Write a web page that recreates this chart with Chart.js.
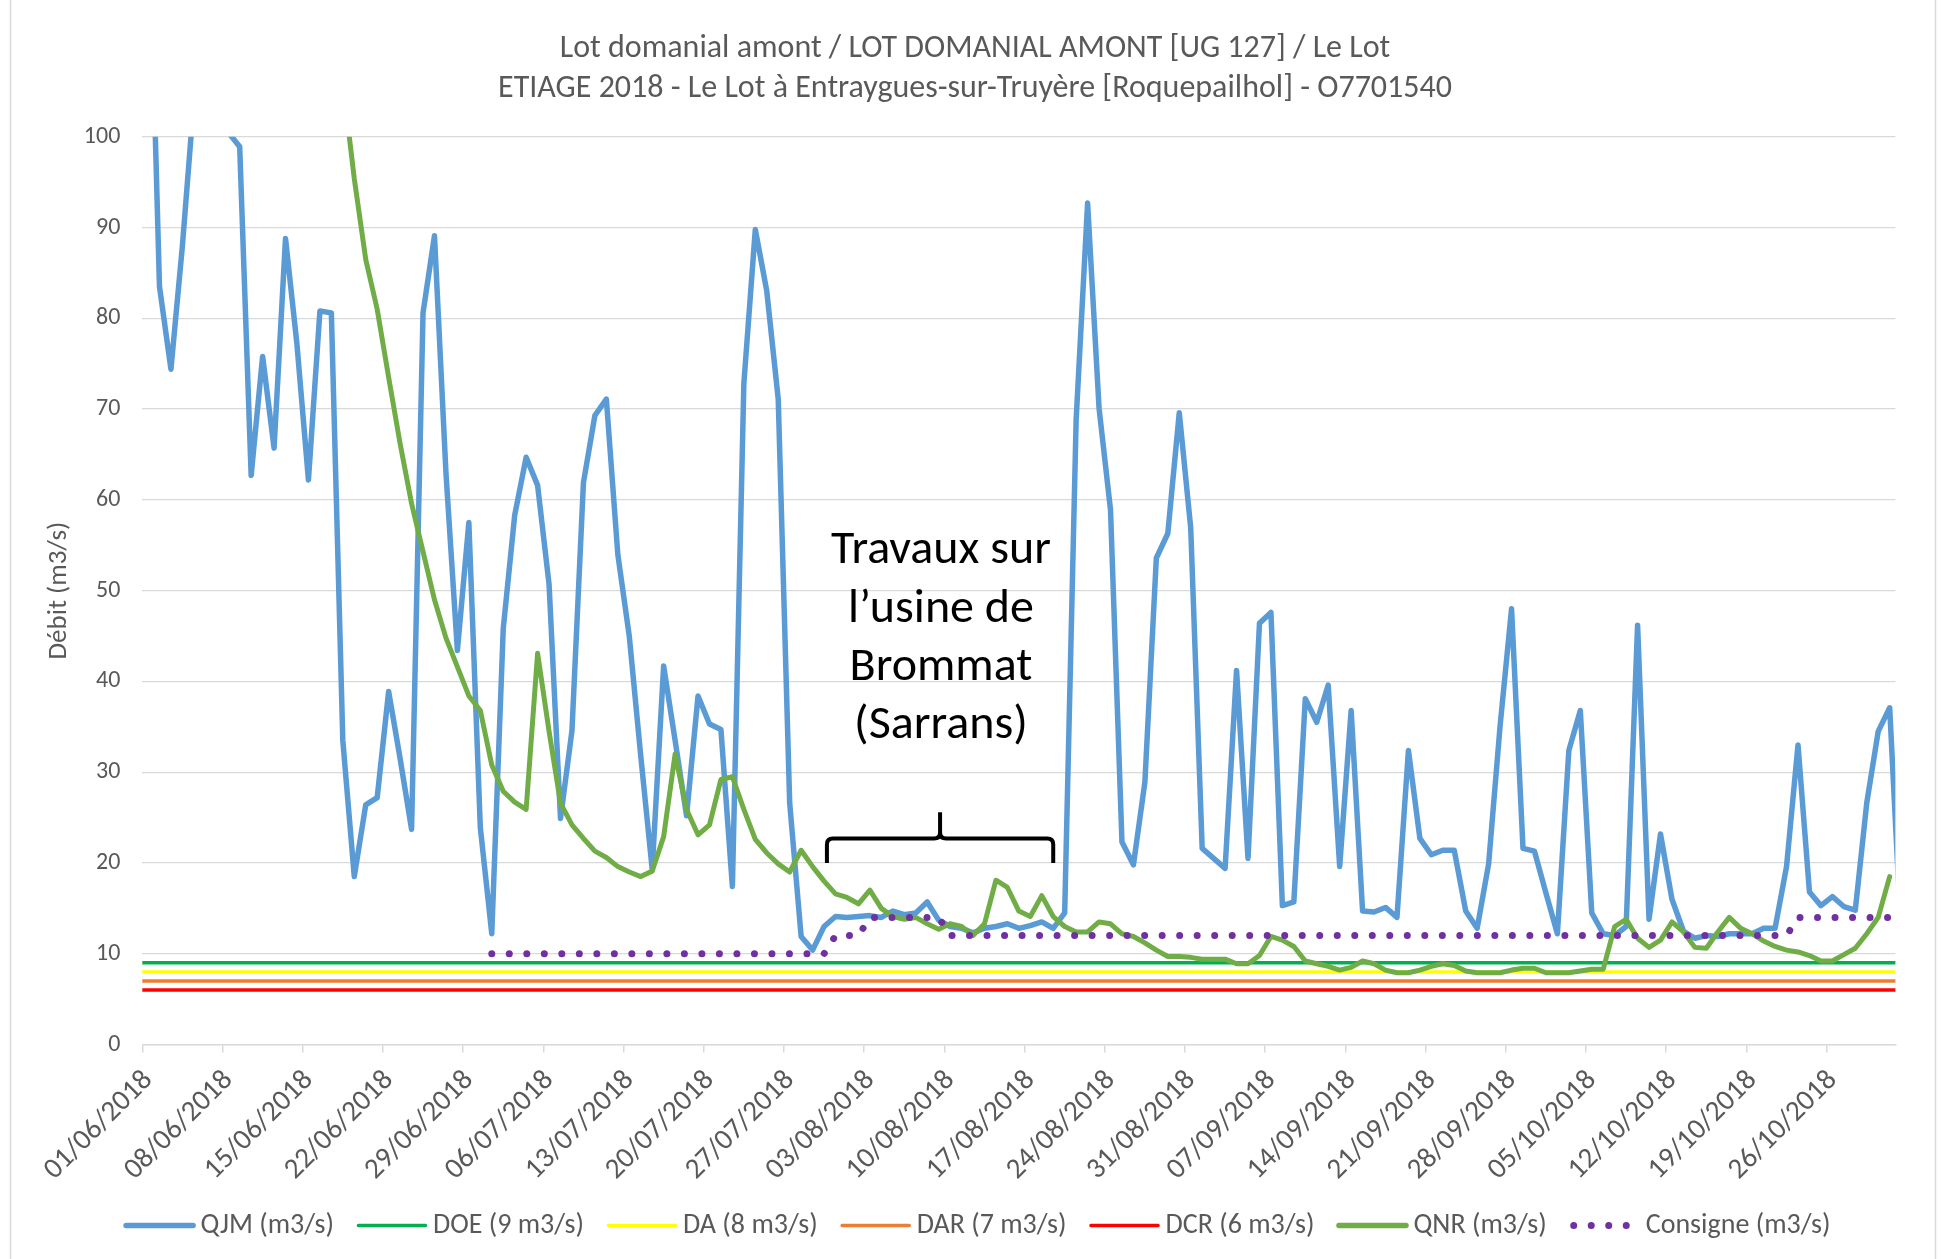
<!DOCTYPE html>
<html>
<head>
<meta charset="utf-8">
<script src="https://cdn.jsdelivr.net/npm/chart.js@4.4.1/dist/chart.umd.min.js"></script>
<style>
  html, body { margin: 0; padding: 0; background: #ffffff; }
  #wrap { position: relative; width: 1946px; height: 1259px; }
  canvas { display: block; }
</style>
</head>
<body>
<div id="wrap"><canvas id="chart" width="1946" height="1259"></canvas></div>
<script>
// ---------------------------------------------------------------------------
// Data
// ---------------------------------------------------------------------------
const titleLines = [
  'Lot domanial amont / LOT DOMANIAL AMONT [UG 127] / Le Lot',
  'ETIAGE 2018 - Le Lot \u00e0 Entraygues-sur-Truy\u00e8re [Roquepailhol] - O7701540'
];
const yAxisTitle = 'D\u00e9bit (m3/s)';

// Day 0 = 01/06/2018, one value per day up to 31/10/2018 (day 152)
const startDate = { year: 2018, month: 5, day: 1 };
const dayCount = 153;

// Axis labels, one every 7 days
const tickDays = [0, 7, 14, 21, 28, 35, 42, 49, 56, 63, 70, 77, 84, 91, 98, 105, 112, 119, 126, 133, 140, 147];
const tickLabels = ['01/06/2018', '08/06/2018', '15/06/2018', '22/06/2018', '29/06/2018', '06/07/2018',
  '13/07/2018', '20/07/2018', '27/07/2018', '03/08/2018', '10/08/2018', '17/08/2018', '24/08/2018',
  '31/08/2018', '07/09/2018', '14/09/2018', '21/09/2018', '28/09/2018', '05/10/2018', '12/10/2018',
  '19/10/2018', '26/10/2018'];

// QJM: daily mean flow (m3/s), 01/06 -> 01/11
const qjm = [
  129, 83.5, 74.4, 88, 104, 112, 108, 100.5, 98.9, 62.7,
  75.8, 65.7, 88.8, 77.1, 62.2, 80.8, 80.6, 33.5, 18.5, 26.4,
  27.2, 38.9, 31.5, 23.7, 80.6, 89.1, 63, 43.4, 57.5, 23.9,
  12.2, 45.8, 58.3, 64.7, 61.6, 50.7, 24.9, 34.6, 61.9, 69.3,
  71.1, 54, 45, 31.8, 19.3, 41.7, 33.5, 25.2, 38.4, 35.3,
  34.7, 17.4, 72.8, 89.8, 83, 71.1, 26.6, 11.9, 10.4, 13,
  14.1, 14, 14.1, 14.2, 14, 14.7, 14.3, 14.5, 15.7, 13.7,
  13, 12.8, 12.3, 12.8, 13, 13.3, 12.8, 13.1, 13.5, 12.8,
  14.5, 68.8, 92.7, 70.1, 58.9, 22.3, 19.8, 28.9, 53.6, 56.3,
  69.6, 56.9, 21.6, 20.5, 19.4, 41.2, 20.5, 46.4, 47.6, 15.3,
  15.7, 38.1, 35.5, 39.6, 19.6, 36.8, 14.7, 14.6, 15.1, 14,
  32.4, 22.7, 20.9, 21.4, 21.4, 14.7, 12.8, 19.9, 35.1, 48,
  21.6, 21.3, 16.7, 12.2, 32.4, 36.8, 14.5, 12.2, 12, 13,
  46.2, 13.8, 23.2, 16, 12.5, 11.7, 12, 11.9, 12.2, 12.2,
  12.2, 12.8, 12.8, 19.6, 33, 16.8, 15.3, 16.3, 15.2, 14.8,
  26.6, 34.5, 37.1, 12
];

// QNR: naturalised flow (m3/s); first days above the axis range
const qnr = [
  null, null, null, null, null, null, null, null, null, null,
  null, null, null, null, null, null, null, 106, 95.4, 86.5,
  81, 73.5, 66.2, 59.6, 54.3, 49, 44.8, 41.6, 38.4, 36.8,
  30.8, 27.9, 26.7, 25.9, 43.1, 34.5, 26.6, 24.2, 22.7, 21.3,
  20.6, 19.6, 19, 18.5, 19.1, 22.9, 32, 25.9, 23.1, 24.2,
  29.2, 29.5, 25.9, 22.6, 21.1, 19.9, 19, 21.4, 19.6, 18,
  16.6, 16.2, 15.5, 17, 15, 14.1, 13.8, 14, 13.3, 12.7,
  13.3, 13, 12, 13.3, 18.1, 17.3, 14.7, 14.1, 16.4, 14.1,
  13, 12.4, 12.4, 13.5, 13.3, 12.2, 11.9, 11.2, 10.4, 9.7,
  9.7, 9.6, 9.4, 9.4, 9.4, 8.9, 8.9, 9.8, 11.9, 11.5,
  10.8, 9.2, 8.9, 8.6, 8.2, 8.5, 9.2, 8.9, 8.2, 7.9,
  7.9, 8.2, 8.6, 8.9, 8.7, 8.1, 7.9, 7.9, 7.9, 8.2,
  8.4, 8.4, 7.9, 7.9, 7.9, 8.1, 8.3, 8.3, 13, 13.8,
  11.7, 10.7, 11.5, 13.5, 12.4, 10.7, 10.6, 12.4, 14, 12.8,
  12.2, 11.4, 10.8, 10.4, 10.2, 9.8, 9.2, 9.2, 9.9, 10.6,
  12.2, 14, 18.5
];

// Consigne (m3/s), from 01/07 (day 30) to 31/10
const consigneStartDay = 30;
const consigne = [
  10, 10, 10, 10, 10, 10, 10, 10, 10, 10,
  10, 10, 10, 10, 10, 10, 10, 10, 10, 10,
  10, 10, 10, 10, 10, 10, 10, 10, 10, 10,
  12, 12, 12, 14, 14, 14, 14, 14, 14, 14,
  12, 12, 12, 12, 12, 12, 12, 12, 12, 12,
  12, 12, 12, 12, 12, 12, 12, 12, 12, 12,
  12, 12, 12, 12, 12, 12, 12, 12, 12, 12,
  12, 12, 12, 12, 12, 12, 12, 12, 12, 12,
  12, 12, 12, 12, 12, 12, 12, 12, 12, 12,
  12, 12, 12, 12, 12, 12, 12, 12, 12, 12,
  12, 12, 12, 12, 12, 12, 12, 12, 12, 12,
  12, 12, 12, 12, 14, 14, 14, 14, 14, 14,
  14, 14, 14
];

// Regulatory thresholds (m3/s)
const thresholdNames = ['DOE', 'DA', 'DAR', 'DCR'];
const thresholdValues = [9, 8, 7, 6];
const thresholdColors = ['#00B050', '#FFFF00', '#ED7D31', '#FF0000'];

// Works period annotation (days since 01/06)
const worksNote = ['Travaux sur', 'l\u2019usine de', 'Brommat', '(Sarrans)'];
const worksFromDay = 59.25;
const worksToDay = 79.0;

// ---------------------------------------------------------------------------
// Styling
// ---------------------------------------------------------------------------
const FONT = 'Carlito, Lato, "Open Sans", sans-serif';
const GREY = '#595959';
const GRID = '#D9D9D9';
Chart.defaults.font.family = FONT;

function points(values, firstDay) {
  const out = [];
  values.forEach((v, i) => { if (v !== null) out.push({ x: firstDay + i, y: v }); });
  return out;
}

const xMin = -0.5;
const xMax = dayCount - 0.5;

const datasets = [];
datasets.push({
  label: 'QJM (m3/s)', data: points(qjm, 0),
  borderColor: '#5B9BD5', backgroundColor: '#5B9BD5', borderWidth: 5.5,
  borderCapStyle: 'round', borderJoinStyle: 'round', order: 6, legendWidth: 5.5
});
thresholdNames.forEach((name, k) => {
  datasets.push({
    label: name + ' (' + thresholdValues[k] + ' m3/s)',
    data: [{ x: xMin - 1, y: thresholdValues[k] }, { x: xMax + 1, y: thresholdValues[k] }],
    borderColor: thresholdColors[k], backgroundColor: thresholdColors[k], borderWidth: 3.5,
    order: 5 - k, legendWidth: 3.5
  });
});
datasets.push({
  label: 'QNR (m3/s)', data: points(qnr, 0),
  borderColor: '#70AD47', backgroundColor: '#70AD47', borderWidth: 5,
  borderCapStyle: 'round', borderJoinStyle: 'round', order: 1, legendWidth: 5.5
});
datasets.push({
  label: 'Consigne (m3/s)', data: points(consigne, consigneStartDay),
  borderColor: '#7030A0', backgroundColor: '#7030A0', borderWidth: 7,
  borderCapStyle: 'round', borderDash: [0.01, 17.5], order: 0, legendWidth: 7
});

// ---------------------------------------------------------------------------
// Plugins: frame, titles, annotation, legend
// ---------------------------------------------------------------------------
const frame = {
  id: 'frame',
  beforeDraw(chart) {
    const c = chart.ctx;
    c.save();
    c.fillStyle = '#ffffff';
    c.fillRect(0, 0, chart.width, chart.height);
    c.strokeStyle = GRID;
    c.lineWidth = 1.5;
    c.strokeRect(10.5, -5, chart.width - 21, chart.height + 10);
    c.restore();
  }
};

const texts = {
  id: 'texts',
  afterDraw(chart) {
    const c = chart.ctx;
    const area = chart.chartArea;
    c.save();
    c.fillStyle = GREY;
    c.textAlign = 'center';
    c.textBaseline = 'middle';
    c.font = '32px ' + FONT;
    c.fillText(titleLines[0], 975, 48.5);
    c.fillText(titleLines[1], 975, 88.5);

    c.translate(59, (area.top + area.bottom) / 2);
    c.rotate(-Math.PI / 2);
    c.font = '27px ' + FONT;
    c.fillText(yAxisTitle, 0, 0);
    c.restore();
  }
};

const works = {
  id: 'works',
  afterDatasetsDraw(chart) {
    const c = chart.ctx;
    const xs = chart.scales.x, ys = chart.scales.y;
    const x0 = xs.getPixelForValue(worksFromDay);
    const x1 = xs.getPixelForValue(worksToDay);
    const xm = (x0 + x1) / 2;
    const yEnd = ys.getPixelForValue(20);
    const yBar = ys.getPixelForValue(22.7);
    const yTip = ys.getPixelForValue(25.6);
    const r = 6;
    c.save();
    c.strokeStyle = '#000000';
    c.lineWidth = 4;
    c.lineJoin = 'round';
    c.lineCap = 'butt';
    c.beginPath();
    c.moveTo(x0, yEnd);
    c.lineTo(x0, yBar + r);
    c.quadraticCurveTo(x0, yBar, x0 + r, yBar);
    c.lineTo(xm - r, yBar);
    c.quadraticCurveTo(xm, yBar, xm, yBar - r);
    c.lineTo(xm, yTip);
    c.moveTo(x1, yEnd);
    c.lineTo(x1, yBar + r);
    c.quadraticCurveTo(x1, yBar, x1 - r, yBar);
    c.lineTo(xm + r, yBar);
    c.quadraticCurveTo(xm, yBar, xm, yBar - r);
    c.stroke();

    c.fillStyle = '#000000';
    c.textAlign = 'center';
    c.textBaseline = 'alphabetic';
    c.font = '48px ' + FONT;
    const tx = xs.getPixelForValue(69.2);
    const ty = ys.getPixelForValue(53);
    worksNote.forEach((line, i) => c.fillText(line, tx, ty + i * 58.3));
    c.restore();
  }
};

const legend = {
  id: 'bottomLegend',
  afterDraw(chart) {
    const c = chart.ctx;
    const sets = chart.data.datasets;
    const sample = 72, textGap = 5, itemGap = 22, y = 1225.5;
    c.save();
    c.font = '28px ' + FONT;
    const widths = sets.map(ds => sample + textGap + c.measureText(ds.label).width);
    const total = widths.reduce((a, b) => a + b, 0) + itemGap * (sets.length - 1);
    let x = 977 - total / 2;
    sets.forEach((ds, i) => {
      c.save();
      c.strokeStyle = ds.borderColor;
      c.lineWidth = ds.legendWidth;
      c.lineCap = 'round';
      c.setLineDash(ds.borderDash || []);
      c.beginPath();
      const inset = ds.borderDash ? 5 : 2.5;
      c.moveTo(x + inset, y);
      c.lineTo(x + sample - inset - (ds.borderDash ? 6 : 0), y);
      c.stroke();
      c.restore();
      c.fillStyle = GREY;
      c.textAlign = 'left';
      c.textBaseline = 'middle';
      c.fillText(ds.label, x + sample + textGap, y);
      x += widths[i] + itemGap;
    });
    c.restore();
  }
};

// ---------------------------------------------------------------------------
// Chart
// ---------------------------------------------------------------------------
new Chart(document.getElementById('chart'), {
  type: 'line',
  data: { datasets },
  plugins: [frame, texts, works, legend],
  options: {
    responsive: false,
    animation: false,
    events: [],
    layout: { padding: { top: 136.8, right: 50.6, bottom: 0, left: 0 } },
    datasets: { line: { clip: 0, pointRadius: 0, tension: 0, fill: false } },
    plugins: { legend: { display: false }, title: { display: false }, tooltip: { enabled: false } },
    scales: {
      x: {
        type: 'linear', min: xMin, max: xMax,
        afterBuildTicks: axis => { axis.ticks = tickDays.map(d => ({ value: d - 0.5 })); },
        afterFit: axis => { axis.height = 1259 - 1044.5; },
        ticks: {
          autoSkip: false, minRotation: 45, maxRotation: 45, padding: 11, labelOffset: 6,
          color: GREY, font: { size: 29 },
          callback: value => tickLabels[tickDays.indexOf(Math.round(value + 0.5))]
        },
        grid: { drawOnChartArea: false, drawTicks: true, tickLength: 8, color: GRID, lineWidth: 1.5 },
        border: { display: true, color: GRID, width: 1.5 }
      },
      y: {
        min: 0, max: 100,
        afterFit: axis => { axis.width = 142.3; },
        ticks: { stepSize: 10, padding: 22, color: GREY, font: { size: 24 } },
        grid: { color: GRID, lineWidth: 1.3, drawTicks: false },
        border: { display: false }
      }
    }
  }
});
</script>
</body>
</html>
